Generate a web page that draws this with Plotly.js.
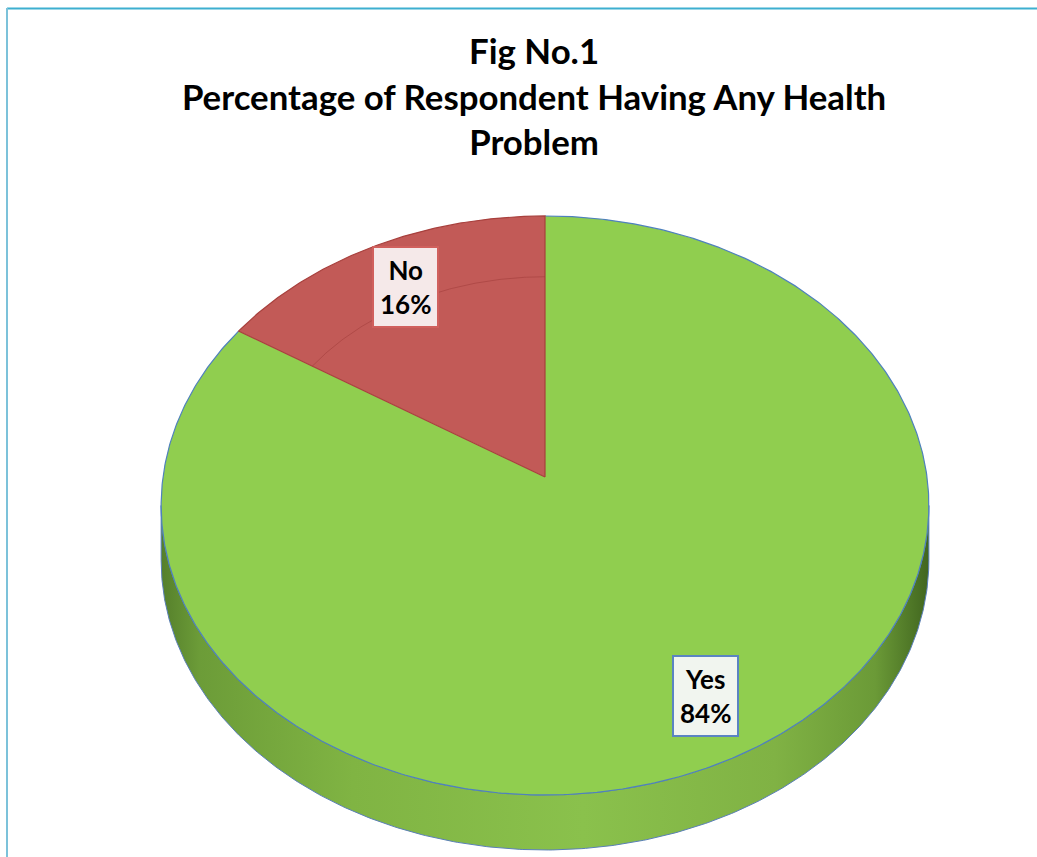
<!DOCTYPE html>
<html>
<head>
<meta charset="utf-8">
<script src="https://cdn.plot.ly/plotly-3.0.1.min.js"></script>
<style>
  html, body { margin: 0; padding: 0; background: #ffffff; }
  #chart { width: 1037px; height: 857px; }
</style>
</head>
<body>
<div id="chart"></div>
<script>
// Survey result: share of respondents reporting any health problem
const categories = ['Yes', 'No'];
const shares = [84, 16];
const sliceColors = ['#90CE4F', '#C25A57'];
const sliceEdgeColors = ['#4F81BD', '#A8403D'];
const labelFill = ['#F1F5EF', '#F5E9E9'];
const labelBorder = ['#5B84C2', '#D0605D'];

// Tilted-disc projection (screen pixels on both axes)
const CX = 545, CY = 477;     // centre of the disc top
const RX = 382, RY = 286.7;   // horizontal / vertical radii
const PERSP = 0.0984;         // near side drawn larger than far side
const DEPTH = 55;             // thickness of the disc
const DEG = Math.PI / 180;

// angle in degrees, clockwise from 12 o'clock; r = fraction of radius
function project(r, deg) {
  const u = r * Math.sin(deg * DEG);
  const v = r * Math.cos(deg * DEG);
  const s = 1 / (1 + PERSP * v);
  return [CX + RX * u * s, CY - RY * v * s];
}
function arc(r, a0, a1, dy) {
  const pts = [];
  const n = Math.max(2, Math.ceil(Math.abs(a1 - a0) / 0.5));
  for (let i = 0; i <= n; i++) {
    const p = project(r, a0 + (a1 - a0) * i / n);
    pts.push([p[0], p[1] + (dy || 0)]);
  }
  return pts;
}

const total = shares.reduce((a, b) => a + b, 0);
const bounds = [];
let acc = 0;
shares.forEach(v => { bounds.push([acc / total * 360, (acc + v) / total * 360]); acc += v; });

const traces = [];

// Visible side wall: front arc between the left and right extremes of the rim
const aRight = Math.acos(-PERSP) / DEG;
const aLeft = 360 - aRight;
const topEdge = arc(1, aRight, aLeft, 0);
const bottomEdge = arc(1, aLeft, aRight, DEPTH);
const wall = topEdge.concat(bottomEdge);
wall.push(topEdge[0]);
traces.push({
  type: 'scatter', mode: 'lines',
  x: wall.map(p => p[0]), y: wall.map(p => p[1]),
  fill: 'toself',
  fillgradient: {
    type: 'horizontal',
    colorscale: [[0, '#557F2B'], [0.05, '#6C9C38'], [0.25, '#80B443'],
                 [0.55, '#8AC14C'], [0.8, '#80B244'], [0.93, '#6B9A37'], [1, '#41661F']]
  },
  line: { color: '#5A7FB8', width: 1 },
  hoverinfo: 'skip'
});

// Top face slices
shares.forEach((v, i) => {
  const pts = [[CX, CY]].concat(arc(1, bounds[i][0], bounds[i][1], 0));
  pts.push([CX, CY]);
  traces.push({
    type: 'scatter', mode: 'lines',
    x: pts.map(p => p[0]), y: pts.map(p => p[1]),
    fill: 'toself', fillcolor: sliceColors[i],
    line: { color: 'rgba(0,0,0,0)', width: 0 },
    name: categories[i],
    hoverinfo: 'name'
  });
});

// Slice edges: green rim in blue, red slice outlined in darker red
shares.forEach((v, i) => {
  const rim = arc(1, bounds[i][0], bounds[i][1], 0);
  const pts = i === 0 ? rim : [[CX, CY]].concat(rim, [[CX, CY]]);
  traces.push({
    type: 'scatter', mode: 'lines',
    x: pts.map(p => p[0]), y: pts.map(p => p[1]),
    line: { color: sliceEdgeColors[i], width: 1.2 },
    hoverinfo: 'skip'
  });
});

// Faint inner ring on the small slice
const ring = arc(0.75, bounds[1][0], bounds[1][1], 0);
traces.push({
  type: 'scatter', mode: 'lines',
  x: ring.map(p => p[0]), y: ring.map(p => p[1]),
  line: { color: 'rgba(160,60,58,0.55)', width: 1 },
  hoverinfo: 'skip'
});

// Data labels at the middle of each slice
const annotations = shares.map((v, i) => {
  const mid = (bounds[i][0] + bounds[i][1]) / 2;
  const p = project(0.81, mid);
  return {
    x: p[0], y: p[1], xref: 'x', yref: 'y',
    text: categories[i] + '<br>' + v + '%',
    showarrow: false,
    font: { family: 'Lato, sans-serif', size: 26, color: '#000000', weight: 'bold' },
    bgcolor: labelFill[i],
    bordercolor: labelBorder[i],
    borderwidth: 2,
    borderpad: 6
  };
});

const layout = {
  width: 1037, height: 857,
  margin: { l: 0, r: 0, t: 0, b: 0 },
  paper_bgcolor: '#ffffff', plot_bgcolor: '#ffffff',
  showlegend: false,
  title: {
    text: 'Fig No.1<br>Percentage of Respondent Having Any Health<br>Problem',
    font: { family: 'Lato, sans-serif', size: 34.8, color: '#000000', weight: 'bold' },
    x: 0.515, xanchor: 'center', y: 0.925, yanchor: 'top'
  },
  xaxis: { range: [0, 1037], visible: false, fixedrange: true },
  yaxis: { range: [857, 0], visible: false, fixedrange: true },
  annotations: annotations,
  shapes: [
    { type: 'line', xref: 'x', yref: 'y', x0: 7, x1: 1037, y0: 8.5, y1: 8.5,
      line: { color: '#3DAFD0', width: 2 } },
    { type: 'line', xref: 'x', yref: 'y', x0: 7, x1: 7, y0: 8, y1: 857,
      line: { color: '#7CC2DA', width: 2 } }
  ]
};

Plotly.newPlot('chart', traces, layout, { displayModeBar: false, staticPlot: true });
</script>
</body>
</html>
